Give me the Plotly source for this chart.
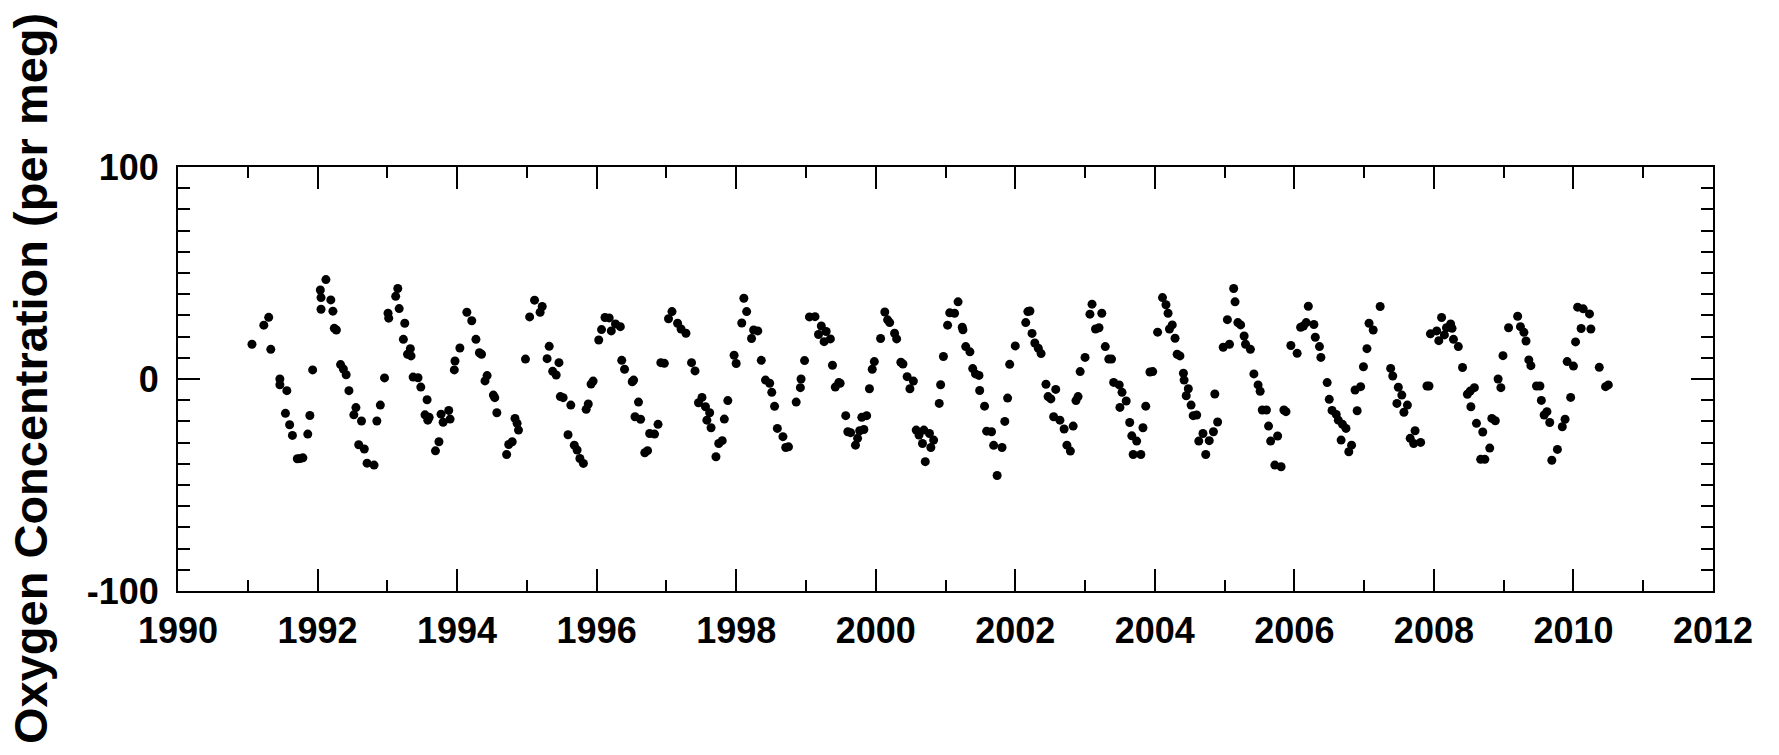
import plotly.graph_objects as go

years = [
    1991.06, 1991.23, 1991.30, 1991.33, 1991.46, 1991.46, 1991.56, 1991.54, 1991.60, 1991.64,
    1991.71, 1991.75, 1991.79, 1991.86, 1991.89, 1991.93, 1992.04, 1992.05, 1992.05, 1992.12,
    1992.19, 1992.22, 1992.24, 1992.27, 1992.33, 1992.37, 1992.41, 1992.45, 1992.52, 1992.55,
    1992.59, 1992.63, 1992.67, 1992.71, 1992.81, 1992.85, 1992.90, 1992.96, 1993.01, 1993.02,
    1993.12, 1993.15, 1993.17, 1993.23, 1993.25, 1993.29, 1993.33, 1993.34, 1993.37, 1993.44,
    1993.48, 1993.54, 1993.57, 1993.58, 1993.60, 1993.69, 1993.74, 1993.77, 1993.80, 1993.88,
    1993.90, 1993.96, 1993.97, 1994.04, 1994.14, 1994.21, 1994.27, 1994.32, 1994.35, 1994.40,
    1994.43, 1994.52, 1994.54, 1994.57,
    1994.71, 1994.74, 1994.79, 1994.83, 1994.86, 1994.88, 1994.98, 1995.04, 1995.11, 1995.19,
    1995.22, 1995.29, 1995.32, 1995.37, 1995.42, 1995.46, 1995.48, 1995.52, 1995.59, 1995.63,
    1995.68, 1995.72, 1995.76, 1995.81, 1995.85, 1995.88, 1995.92, 1995.95, 1996.03, 1996.07,
    1996.12, 1996.18, 1996.21, 1996.27, 1996.34, 1996.36, 1996.40, 1996.51, 1996.53, 1996.55,
    1996.60, 1996.63, 1996.69, 1996.73, 1996.76, 1996.83, 1996.88, 1996.92, 1996.97, 1997.03,
    1997.08, 1997.16, 1997.21, 1997.28, 1997.36, 1997.41, 1997.46, 1997.51, 1997.56, 1997.58,
    1997.62, 1997.64, 1997.71, 1997.75, 1997.80, 1997.83, 1997.88, 1997.97, 1998.00, 1998.08,
    1998.11, 1998.15, 1998.22, 1998.25, 1998.31, 1998.36, 1998.42, 1998.48, 1998.51, 1998.55,
    1998.59, 1998.67, 1998.71, 1998.75,
    1998.86, 1998.92, 1998.93, 1998.98, 1999.05, 1999.13, 1999.18, 1999.22, 1999.26, 1999.29,
    1999.35, 1999.38, 1999.42, 1999.47, 1999.49, 1999.57, 1999.60, 1999.64, 1999.71, 1999.74,
    1999.77, 1999.80, 1999.83, 1999.87, 1999.91, 1999.95, 1999.98, 2000.07, 2000.13, 2000.17,
    2000.20, 2000.27, 2000.30, 2000.36, 2000.39, 2000.45, 2000.49, 2000.54, 2000.58, 2000.62,
    2000.67, 2000.69, 2000.71, 2000.77, 2000.79, 2000.83, 2000.91, 2000.93, 2000.97, 2001.03,
    2001.06, 2001.13, 2001.18, 2001.24, 2001.25, 2001.29, 2001.35, 2001.39, 2001.43, 2001.48,
    2001.49, 2001.56, 2001.59, 2001.66, 2001.69, 2001.74, 2001.81, 2001.85, 2001.89, 2001.92,
    2002.00, 2002.15, 2002.18, 2002.21, 2002.24, 2002.28, 2002.33, 2002.37, 2002.44, 2002.47,
    2002.51, 2002.55, 2002.58, 2002.64, 2002.70, 2002.74, 2002.79, 2002.83, 2002.87, 2002.90,
    2002.93,
    2003.00, 2003.07, 2003.10, 2003.15, 2003.20, 2003.24, 2003.29, 2003.34, 2003.38, 2003.41,
    2003.49, 2003.50, 2003.53, 2003.59, 2003.64, 2003.67, 2003.69, 2003.74, 2003.80, 2003.83,
    2003.87, 2003.93, 2003.97, 2004.04, 2004.11, 2004.16, 2004.19, 2004.21, 2004.25, 2004.29,
    2004.32, 2004.36, 2004.41, 2004.42, 2004.45, 2004.48, 2004.52, 2004.55, 2004.60, 2004.63,
    2004.69, 2004.73, 2004.78, 2004.84, 2004.86, 2004.90, 2004.98, 2005.04, 2005.07, 2005.13,
    2005.15, 2005.19, 2005.23, 2005.28, 2005.30, 2005.37, 2005.42, 2005.48, 2005.51, 2005.54,
    2005.60, 2005.63, 2005.66, 2005.72, 2005.76, 2005.81, 2005.85, 2005.88, 2005.95, 2006.04,
    2006.09, 2006.13, 2006.17, 2006.20, 2006.28, 2006.30, 2006.36, 2006.38, 2006.47, 2006.50,
    2006.54, 2006.60, 2006.63, 2006.67, 2006.69, 2006.74, 2006.78, 2006.82, 2006.87, 2006.90,
    2006.95, 2006.99, 2007.04, 2007.07,
    2007.13, 2007.23, 2007.38, 2007.41, 2007.47, 2007.49, 2007.54, 2007.57, 2007.62, 2007.66,
    2007.71, 2007.73, 2007.81, 2007.90, 2007.93, 2007.95, 2008.04, 2008.07, 2008.11, 2008.15,
    2008.18, 2008.24, 2008.26, 2008.28, 2008.35, 2008.41, 2008.48, 2008.52, 2008.53, 2008.58,
    2008.61, 2008.67, 2008.70, 2008.73, 2008.80, 2008.83, 2008.88, 2008.92, 2008.96, 2008.99,
    2009.07, 2009.20, 2009.24, 2009.29, 2009.32, 2009.36, 2009.39, 2009.47, 2009.52, 2009.54,
    2009.58, 2009.62, 2009.66, 2009.69, 2009.77, 2009.84, 2009.88, 2009.91, 2009.96, 2010.00,
    2010.03, 2010.06, 2010.11, 2010.14, 2010.23, 2010.25, 2010.37, 2010.46, 2010.50,
]

o2_per_meg = [
    16.4, 25.4, 29.1, 14.0, 0.0, -2.7, -5.5, -16.2, -21.6, -26.6,
    -37.6, -37.5, -37.2, -26.0, -17.2, 4.3, 42.0, 38.4, 32.9, 46.9,
    37.3, 32.0, 23.9, 23.1, 6.8, 4.7, 2.0, -5.5, -16.9, -13.5,
    -31.0, -19.8, -33.0, -39.7, -40.6, -19.8, -12.3, 0.5, 31.0, 28.7,
    39.0, 42.7, 33.2, 18.7, 26.3, 11.7, 14.3, 10.9, 0.9, 0.6,
    -3.8, -16.9, -9.8, -19.4, -18.1, -33.9, -29.6, -16.6, -20.4, -14.8,
    -18.9, 4.3, 8.5, 14.6, 31.5, 27.5, 18.7, 12.4, 11.7, -0.9,
    1.6, -7.6, -8.8, -15.9,
    -35.6, -30.9, -29.6, -18.6, -20.9, -24.1, 9.4, 29.3, 37.2, 31.5,
    34.2, 9.6, 15.4, 3.6, 1.9, 7.7, -8.3, -8.8, -26.3, -12.3,
    -31.2, -33.5, -37.5, -39.8, -14.3, -11.8, -2.4, -1.0, 18.4, 23.3,
    29.0, 28.8, 22.7, 26.0, 24.7, 8.8, 4.6, -1.3, -0.5, -17.8,
    -10.9, -19.0, -34.8, -33.8, -25.7, -26.0, -21.4, 7.7, 7.4, 28.4,
    31.8, 26.3, 23.6, 21.6, 7.7, 3.8, -11.2, -8.7, -13.1, -19.4,
    -15.9, -23.0, -36.7, -30.4, -29.1, -18.9, -10.2, 11.2, 7.3, 26.4,
    38.1, 31.8, 19.1, 23.1, 22.7, 8.8, -0.5, -2.0, -6.3, -12.9,
    -23.3, -27.2, -32.3, -32.0,
    -10.9, -4.1, 0.0, 8.7, 29.3, 29.4, 21.0, 25.0, 17.6, 22.4,
    18.9, 6.5, -3.8, -1.7, -2.0, -17.3, -24.9, -25.3, -31.2, -28.0,
    -24.4, -18.1, -23.8, -17.3, -4.6, 4.6, 8.2, 19.1, 31.6, 27.9,
    26.6, 21.6, 18.9, 7.9, 7.1, 1.1, -4.6, -1.0, -24.1, -26.4,
    -30.4, -24.1, -39.0, -25.7, -32.3, -28.8, -11.5, -2.7, 10.6, 25.4,
    31.2, 31.0, 36.4, 24.4, 23.2, 15.3, 12.8, 4.9, 2.4, 1.7,
    -5.4, -12.8, -24.6, -24.9, -31.3, -45.5, -32.3, -20.0, -9.0, 6.9,
    15.6, 26.6, 31.8, 32.1, 21.5, 17.0, 14.5, 12.0, -2.5, -8.3,
    -9.4, -17.8, -4.9, -19.4, -23.6, -31.2, -34.0, -22.2, -10.2, -8.3,
    3.5,
    10.2, 30.6, 35.3, 23.6, 24.2, 31.0, 15.3, 9.4, 9.4, -1.6,
    -2.8, -13.4, -6.3, -10.4, -20.5, -26.8, -35.6, -29.3, -35.6, -23.0,
    -12.8, 3.3, 3.5, 22.1, 38.4, 35.0, 31.0, 23.6, 25.5, 19.2,
    11.7, 10.9, 2.7, -0.5, -7.9, -4.6, -12.3, -17.3, -17.0, -29.3,
    -25.7, -35.6, -29.1, -24.9, -7.1, -20.3, 15.0, 28.0, 16.4, 42.7,
    36.4, 26.6, 25.5, 20.3, 16.4, 14.0, 2.4, -2.8, -5.8, -14.6,
    -14.6, -22.2, -29.3, -40.6, -26.9, -41.4, -14.6, -15.4, 15.8, 12.1,
    24.4, 25.0, 26.6, 34.3, 25.7, 19.7, 15.3, 10.2, -1.7, -9.6,
    -14.8, -16.7, -19.4, -28.8, -21.4, -23.3, -34.3, -31.2, -5.2, -15.0,
    -3.6, 5.8, 14.3, 26.3,
    23.1, 34.2, 5.0, 1.4, -11.5, -3.9, -7.6, -15.7, -12.3, -28.0,
    -30.4, -24.4, -29.9, -3.3, -3.3, 21.3, 22.7, 18.1, 29.0, 20.8,
    24.2, 26.0, 23.9, 18.7, 15.3, 5.4, -7.2, -5.7, -13.1, -4.1,
    -20.9, -37.9, -25.0, -37.9, -32.6, -18.6, -19.7, 0.0, -4.1, 11.0,
    24.2, 29.6, 24.7, 22.0, 17.9, 9.0, 6.3, -3.3, -3.3, -10.1,
    -17.0, -15.4, -20.5, -38.3, -33.2, -22.5, -19.0, 8.2, -8.7, 6.1,
    17.5, 33.9, 23.8, 33.1, 30.7, 23.6, 5.5, -3.6, -2.8,
]

x_range = [1990, 2012]
y_range = [-100, 100]
y_tickvals = [-100, 0, 100]
y_ticktext = ["-100", "0", "100"]
y_title = "Oxygen Concentration (per meg)"

FONT = "Liberation Sans, Arial, sans-serif"

fig = go.Figure()
fig.add_trace(go.Scatter(
    x=years, y=o2_per_meg, mode="markers",
    marker=dict(color="black", size=9, line=dict(width=0)),
    showlegend=False, hoverinfo="x+y",
))

fig.update_layout(
    width=1779, height=755,
    margin=dict(l=178, r=66, t=167, b=164),
    paper_bgcolor="white", plot_bgcolor="white",
    font=dict(family=FONT, color="black", size=36, weight="bold"),
    xaxis=dict(
        range=x_range, tick0=1990, dtick=2, tickmode="linear",
        ticks="inside", ticklen=22, tickwidth=2, tickcolor="black",
        minor=dict(ticks="inside", ticklen=11, tickwidth=2, dtick=1, tick0=1990, tickcolor="black", showgrid=False),
        showline=True, linewidth=2, linecolor="black", mirror="allticks",
        showgrid=False, zeroline=False, ticklabelstandoff=7,
        tickfont=dict(family=FONT, size=36, color="black", weight="bold"),
    ),
    yaxis=dict(
        range=y_range, tickmode="array", tickvals=y_tickvals, ticktext=y_ticktext,
        ticks="inside", ticklen=22, tickwidth=2, tickcolor="black",
        minor=dict(ticks="inside", ticklen=12, tickwidth=2, dtick=10, tick0=0, tickmode="linear", tickcolor="black", showgrid=False),
        showline=True, linewidth=2, linecolor="black", mirror="allticks",
        showgrid=False, zeroline=False, ticklabelstandoff=10,
        tickfont=dict(family=FONT, size=36, color="black", weight="bold"),
    ),
    annotations=[dict(
        text=y_title, textangle=-90, showarrow=False,
        xref="paper", yref="paper", x=0, y=0.5,
        xanchor="center", yanchor="middle", xshift=-148,
        font=dict(family=FONT, size=47, color="black", weight="bold"),
    )],
)

fig.write_html("out.html")
